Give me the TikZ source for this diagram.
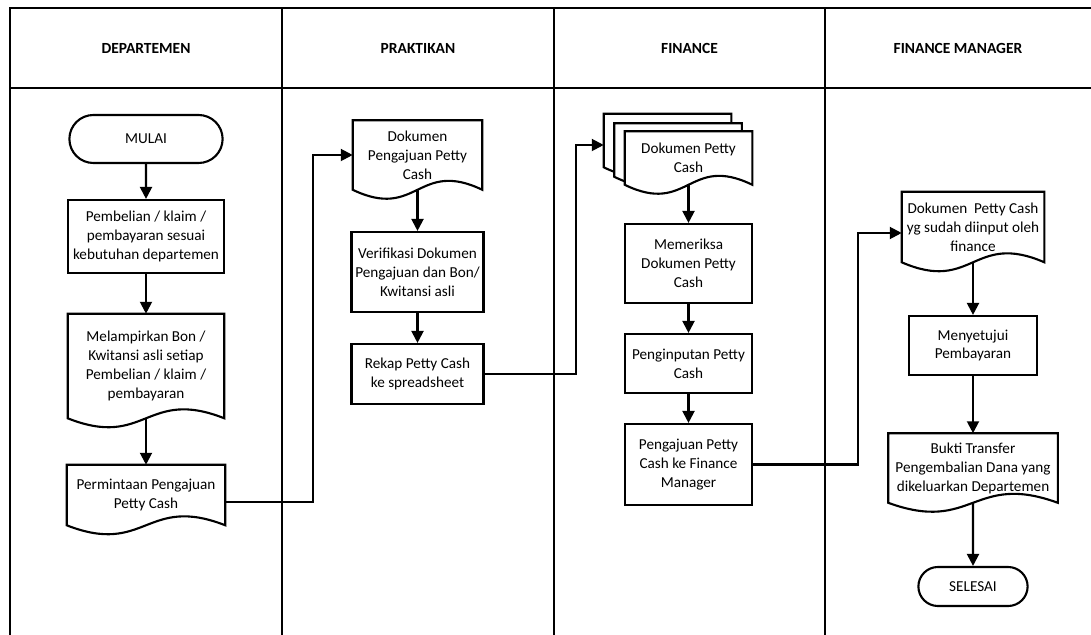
\documentclass[tikz,border=0pt]{standalone}
\usepackage{fontspec}
\setmainfont{Carlito}
\usetikzlibrary{arrows.meta}
\usetikzlibrary{shapes.misc}
\usetikzlibrary{calc}

\pgfdeclarelayer{background}
\pgfsetlayers{background,main}

\tikzset{
  lane/.style={black,line width=1.7pt},
  lanehead/.style={font=\fontsize{11}{13}\selectfont\bfseries,text=black,anchor=center},
  boxtext/.style={align=center,inner sep=1pt,font=\fontsize{10.8}{13.5}\selectfont},
  proc/.style={boxtext,rectangle,draw=black,line width=1.5pt},
  term/.style={boxtext,rounded rectangle,draw=black,line width=1.5pt},
  docu/.style={boxtext,rectangle,draw=none},
  flow/.style={black,line width=1.5pt,-{Triangle[length=8.5pt,width=8.5pt]}},
}

% outline of a document node (wavy bottom), behind the text
\newcommand{\docline}[1]{%
  \begin{pgfonlayer}{background}
  \draw[black,line width=1.5pt,fill=white,line join=miter]
    (#1.north west) -- (#1.north east) -- (#1.south east)
    .. controls ($(#1.south)+(0,-31)$) and ($(#1.south)+(0,31)$) .. (#1.south west) -- cycle;
  \end{pgfonlayer}}

\begin{document}
\begin{tikzpicture}[x=0.025cm,y=-0.025cm]
\useasboundingbox (0,0) rectangle (1091,635);

% lanes
\draw[lane] (10,635) -- (10,8) -- (1091,8);
\draw[lane] (10,88) -- (1091,88);
\foreach \x in {282,554,825}
  \draw[lane] (\x,8) -- (\x,635);
\node[lanehead] (hdep) at (146,48) {DEPARTEMEN};
\node[lanehead] (hprak) at (418,48) {PRAKTIKAN};
\node[lanehead] (hfin) at (689.5,48) {FINANCE};
\node[lanehead] (hfm) at (958,48) {FINANCE MANAGER};

% departemen
\node[term,minimum width=3.9cm,minimum height=1.2cm] (mulai) at (146,139) {MULAI};
\node[proc,minimum width=3.9cm,minimum height=1.825cm] (beli) at (146,236.5)
  {Pembelian / klaim /\\pembayaran sesuai\\kebutuhan departemen};
\node[docu,minimum width=3.9cm,minimum height=2.6cm] (lampir) at (146,366)
  {Melampirkan Bon /\\Kwitansi asli setiap\\Pembelian / klaim /\\pembayaran};
\docline{lampir}
\node[docu,minimum width=3.95cm,minimum height=1.5cm] (permin) at (146,495)
  {Permintaan Pengajuan\\Petty Cash};
\docline{permin}

% praktikan
\node[docu,minimum width=3.225cm,minimum height=1.725cm] (dokaju) at (417.5,155)
  {Dokumen\\Pengajuan Petty\\Cash};
\docline{dokaju}
\node[proc,minimum width=3.3cm,minimum height=2cm] (verif) at (417.5,272)
  {Verifikasi Dokumen\\Pengajuan dan Bon/\\Kwitansi asli};
\node[proc,minimum width=3.3cm,minimum height=1.5cm] (rekap) at (417.5,374)
  {Rekap Petty Cash\\ke spreadsheet};

% finance
\node[docu,minimum width=3.175cm,minimum height=1.325cm] (dokfinb) at (667.5,140.5) {};
\docline{dokfinb}
\node[docu,minimum width=3.175cm,minimum height=1.325cm] (dokfinm) at (678,150) {};
\docline{dokfinm}
\node[docu,minimum width=3.175cm,minimum height=1.325cm] (dokfin) at (688.5,158)
  {Dokumen Petty\\Cash};
\docline{dokfin}
\node[proc,minimum width=3.175cm,minimum height=1.975cm] (periksa) at (688.5,263.5)
  {Memeriksa\\Dokumen Petty\\Cash};
\node[proc,minimum width=3.175cm,minimum height=1.475cm] (input) at (688.5,363.5)
  {Penginputan Petty\\Cash};
\node[proc,minimum width=3.175cm,minimum height=2.025cm] (ajuan) at (688.5,464.5)
  {Pengajuan Petty\\Cash ke Finance\\Manager};

% finance manager
\node[docu,minimum width=3.55cm,minimum height=1.75cm] (dokfm) at (973,227)
  {Dokumen~ Petty Cash\\yg sudah diinput oleh\\finance};
\docline{dokfm}
\node[proc,minimum width=3.2cm,minimum height=1.475cm] (setuju) at (973,345.5)
  {Menyetujui\\Pembayaran};
\node[docu,minimum width=4.225cm,minimum height=1.725cm] (bukti) at (973,468)
  {Bukti Transfer\\Pengembalian Dana yang\\dikeluarkan Departemen};
\docline{bukti}
\node[term,minimum width=2.8cm,minimum height=0.975cm] (selesai) at (973,586.5) {SELESAI};

% connectors
\coordinate (k1) at (313,0);
\coordinate (k2) at (576,0);
\coordinate (k3) at (858,0);

\draw[flow] (mulai) -- (beli);
\draw[flow] (beli) -- (lampir);
\draw[flow] (lampir.south) -- (permin);
\draw[flow] (permin.east |- 0,502) -- (k1 |- 0,502) -- (k1 |- dokaju.west) -- (dokaju.west);
\draw[flow] (dokaju.south) -- (verif);
\draw[flow] (verif) -- (rekap);
\draw[flow] (rekap.east) -- (rekap.east -| k2) -- (k2 |- 0,145) -- (dokfinb.west |- 0,145);
\draw[flow] (dokfin.south) -- (periksa);
\draw[flow] (periksa) -- (input);
\draw[flow] (input) -- (ajuan);
\draw[flow] (ajuan.east) -- (ajuan.east -| k3) -- (k3 |- 0,233) -- (dokfm.west |- 0,233);
\draw[flow] (dokfm.south) -- (setuju);
\draw[flow] (setuju) -- (bukti);
\draw[flow] (bukti.south) -- (selesai);

\end{tikzpicture}
\end{document}
